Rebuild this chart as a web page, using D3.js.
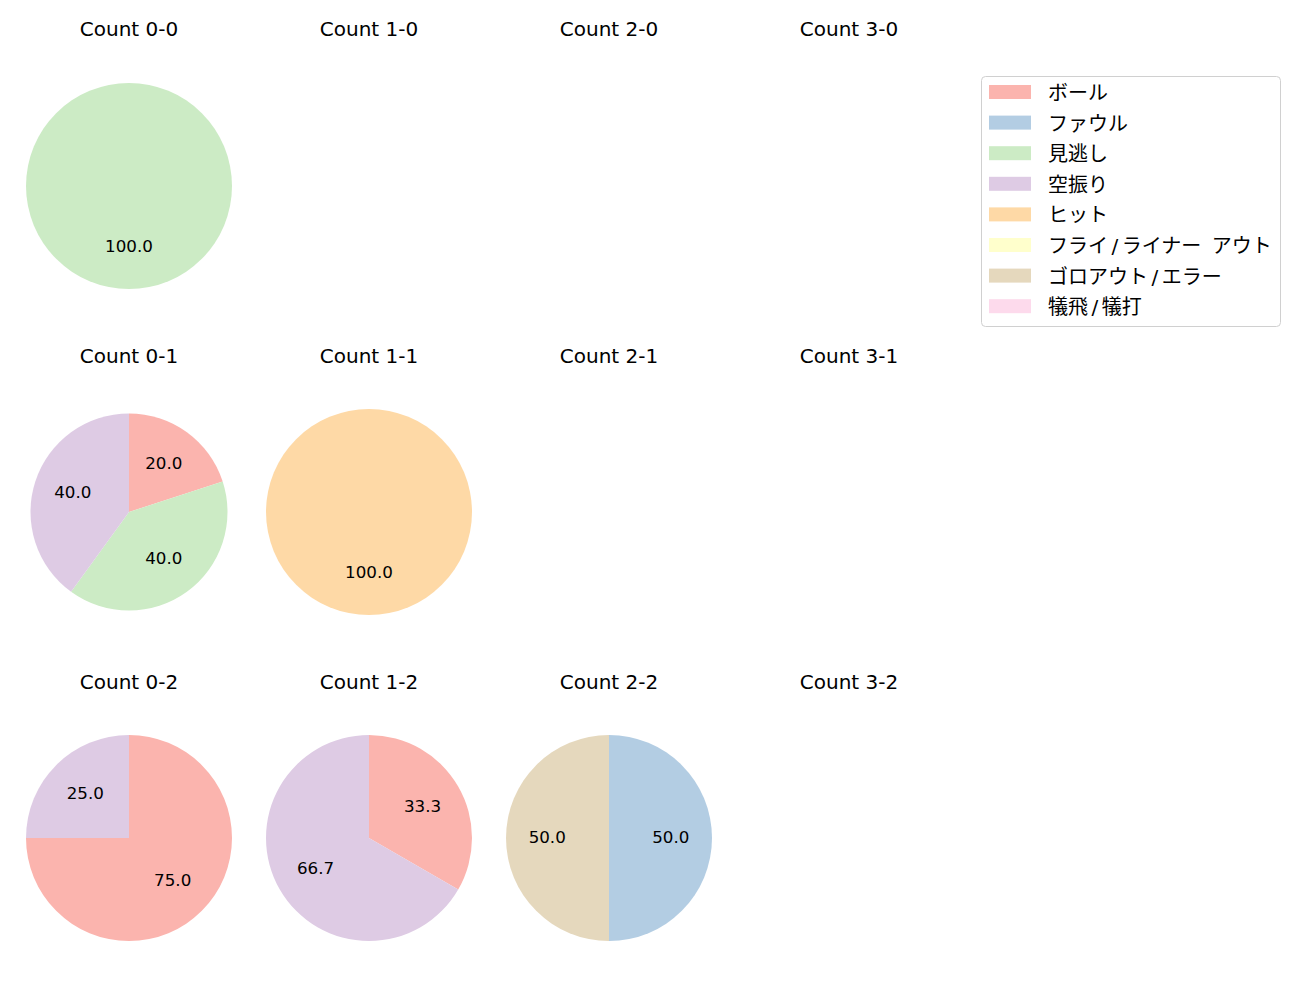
<!DOCTYPE html>
<html><head><meta charset="utf-8">
<script src="https://cdn.jsdelivr.net/npm/d3@7"></script>
<style>body{margin:0;background:#fff;}svg{display:block;font-family:"DejaVu Sans","Noto Sans CJK JP",sans-serif;}</style>
</head><body>
<script>
const categories = ["ボール","ファウル","見逃し","空振り","ヒット","フライ/ライナー アウト","ゴロアウト/エラー","犠飛/犠打"];
const colors = ["#fbb4ae","#b3cde3","#ccebc5","#decbe4","#fed9a6","#ffffcc","#e5d8bd","#fddaec"];
const counts = ["0-0","1-0","2-0","3-0","0-1","1-1","2-1","3-1","0-2","1-2","2-2","3-2"];
// values per category, in the order of categories
const values = {
  "0-0": [0,0,1,0,0,0,0,0],
  "1-0": [],
  "2-0": [],
  "3-0": [],
  "0-1": [1,0,2,2,0,0,0,0],
  "1-1": [0,0,0,0,1,0,0,0],
  "2-1": [],
  "3-1": [],
  "0-2": [3,0,0,1,0,0,0,0],
  "1-2": [1,0,0,2,0,0,0,0],
  "2-2": [0,1,0,0,0,0,1,0],
  "3-2": []
};
const colX = [129, 369, 609, 849];
const rowTitleY = [29, 356, 682];
const rowCY = [186, 512, 838];
const radii = {"0-1": 98.5};

const svg = d3.select("body").append("svg").attr("width",1300).attr("height",1000);
const pie = d3.pie().sort(null).value(d=>d.v);

counts.forEach((c,i)=>{
  const col = i%4, row = Math.floor(i/4);
  const cx = colX[col], cy = rowCY[row];
  svg.append("text").attr("x",cx).attr("y",rowTitleY[row]+7.3).attr("text-anchor","middle")
    .attr("font-size",20).attr("fill","#000").text("Count "+c);
  const vals = values[c];
  if(!vals.length) return;
  const data = vals.map((v,k)=>({v,k})).filter(d=>d.v>0);
  const total = d3.sum(data,d=>d.v);
  const r = radii[c] || 103;
  const arc = d3.arc().innerRadius(0).outerRadius(r);
  const g = svg.append("g").attr("transform",`translate(${cx},${cy})`);
  const arcs = pie(data);
  g.selectAll("path").data(arcs).join("path").attr("d",arc).attr("fill",d=>colors[d.data.k]);
  g.selectAll("text").data(arcs).join("text")
    .attr("x",d=>0.6*r*Math.sin((d.startAngle+d.endAngle)/2))
    .attr("y",d=>-0.6*r*Math.cos((d.startAngle+d.endAngle)/2)+4.6)
    .attr("text-anchor","middle")
    .attr("font-size",16.7).attr("fill","#000")
    .text(d=>(d.data.v/total*100).toFixed(1));
});

// legend
const lg = svg.append("g");
lg.append("rect").attr("x",981.5).attr("y",76.5).attr("width",299).attr("height",250).attr("rx",4)
  .attr("fill","#fff").attr("stroke","#d0d0d0");
categories.forEach((cat,k)=>{
  const y = 92 + k*30.6;
  lg.append("rect").attr("x",989).attr("y",y-7).attr("width",42).attr("height",14).attr("fill",colors[k]);
  const t = lg.append("text").attr("x",1048).attr("y",y+8).attr("font-size",20).attr("fill","#000");
  // split so the slash and space get the wider spacing seen in the reference
  const parts = cat.split(/([\/ ])/).filter(s=>s.length);
  let extra = 0;
  parts.forEach(p=>{
    if(p==="/"){ t.append("tspan").attr("dx",3.5).text("/"); extra = 3.5; }
    else if(p===" "){ t.append("tspan").attr("dx",extra).text("\u00a0"); extra = 4; }
    else { t.append("tspan").attr("dx",extra).text(p); extra = 0; }
  });
});
</script>
</body></html>
